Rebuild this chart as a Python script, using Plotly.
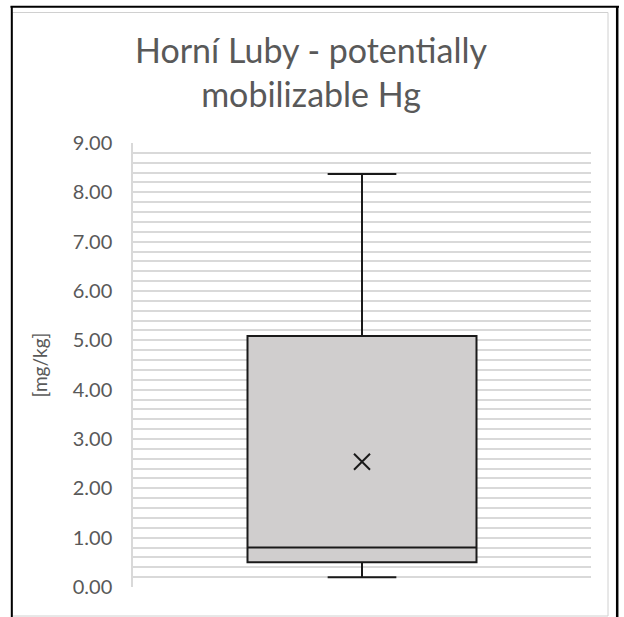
import plotly.graph_objects as go

# ---- data ----
categories = ["Horní Luby"]
lower_fence = [0.20]
q1 = [0.50]
median = [0.80]
q3 = [5.09]
upper_fence = [8.37]
mean = [2.54]

title_text = "Horní Luby - potentially<br>mobilizable Hg"
y_title = "[mg/kg]"

W, H = 624, 617
L, R, T, B = 133, 591, 143, 587  # plot area pixels
pw, ph = R - L, B - T

def px(x):
    return (x - L) / pw

def py(y):
    return (B - y) / ph

fig = go.Figure()
fig.add_trace(go.Box(
    x=categories,
    q1=q1, median=median, q3=q3,
    lowerfence=lower_fence, upperfence=upper_fence,
    width=0.5, whiskerwidth=0.3,
    fillcolor="#d0cece",
    line=dict(color="#1a1a1a", width=2),
    boxpoints=False,
    hoverinfo="skip",
    showlegend=False,
))
fig.add_trace(go.Scatter(
    x=categories, y=mean, mode="markers",
    marker=dict(symbol="x-thin", size=16, line=dict(color="#1a1a1a", width=2)),
    showlegend=False, hoverinfo="skip",
))

shapes = [
    # light gray chart border
    dict(type="rect", xref="paper", yref="paper",
         x0=px(12.5), x1=px(608), y0=py(616), y1=py(12.5),
         line=dict(color="#d0d0d0", width=1), fillcolor="rgba(0,0,0,0)", layer="below"),
    # black outer lines
    dict(type="line", xref="paper", yref="paper",
         x0=px(10.5), x1=px(619), y0=py(6.8), y1=py(6.8),
         line=dict(color="black", width=2)),
    dict(type="line", xref="paper", yref="paper",
         x0=px(11.8), x1=px(11.8), y0=py(6), y1=py(620),
         line=dict(color="black", width=2)),
    dict(type="line", xref="paper", yref="paper",
         x0=px(617.2), x1=px(617.2), y0=py(6), y1=py(620),
         line=dict(color="black", width=2.5)),
]

fig.update_layout(
    width=W, height=H,
    margin=dict(l=L, r=W - R, t=T, b=H - B),
    paper_bgcolor="white", plot_bgcolor="white",
    font=dict(family="Lato", color="#595959"),
    title=dict(text=title_text, x=311 / W, xref="container", xanchor="center",
               y=1 - 63 / H, yref="container", yanchor="top",
               font=dict(family="Lato", size=34, color="#595959")),
    shapes=shapes,
    xaxis=dict(range=[-0.5, 0.5], showticklabels=False, showgrid=False,
               zeroline=False, showline=False, type="category", fixedrange=True),
    yaxis=dict(range=[0, 9], dtick=1, tickformat=".2f",
               tickfont=dict(family="Lato", size=20, color="#595959"),
               showgrid=True, gridcolor="#d9d9d9", gridwidth=1.5,
               minor=dict(dtick=0.2, showgrid=True, gridcolor="#d9d9d9", gridwidth=1.5),
               zeroline=False, showline=True, linecolor="#d9d9d9", linewidth=1.5,
               ticks="", ticklabelstandoff=15,
               title=dict(text=y_title, font=dict(family="Lato", size=19, color="#595959"),
                          standoff=20)),
)

fig.write_html(
    "out.html",
    config={"displayModeBar": False},
    post_script="document.body.style.margin='0';document.body.style.overflow='hidden';",
)
